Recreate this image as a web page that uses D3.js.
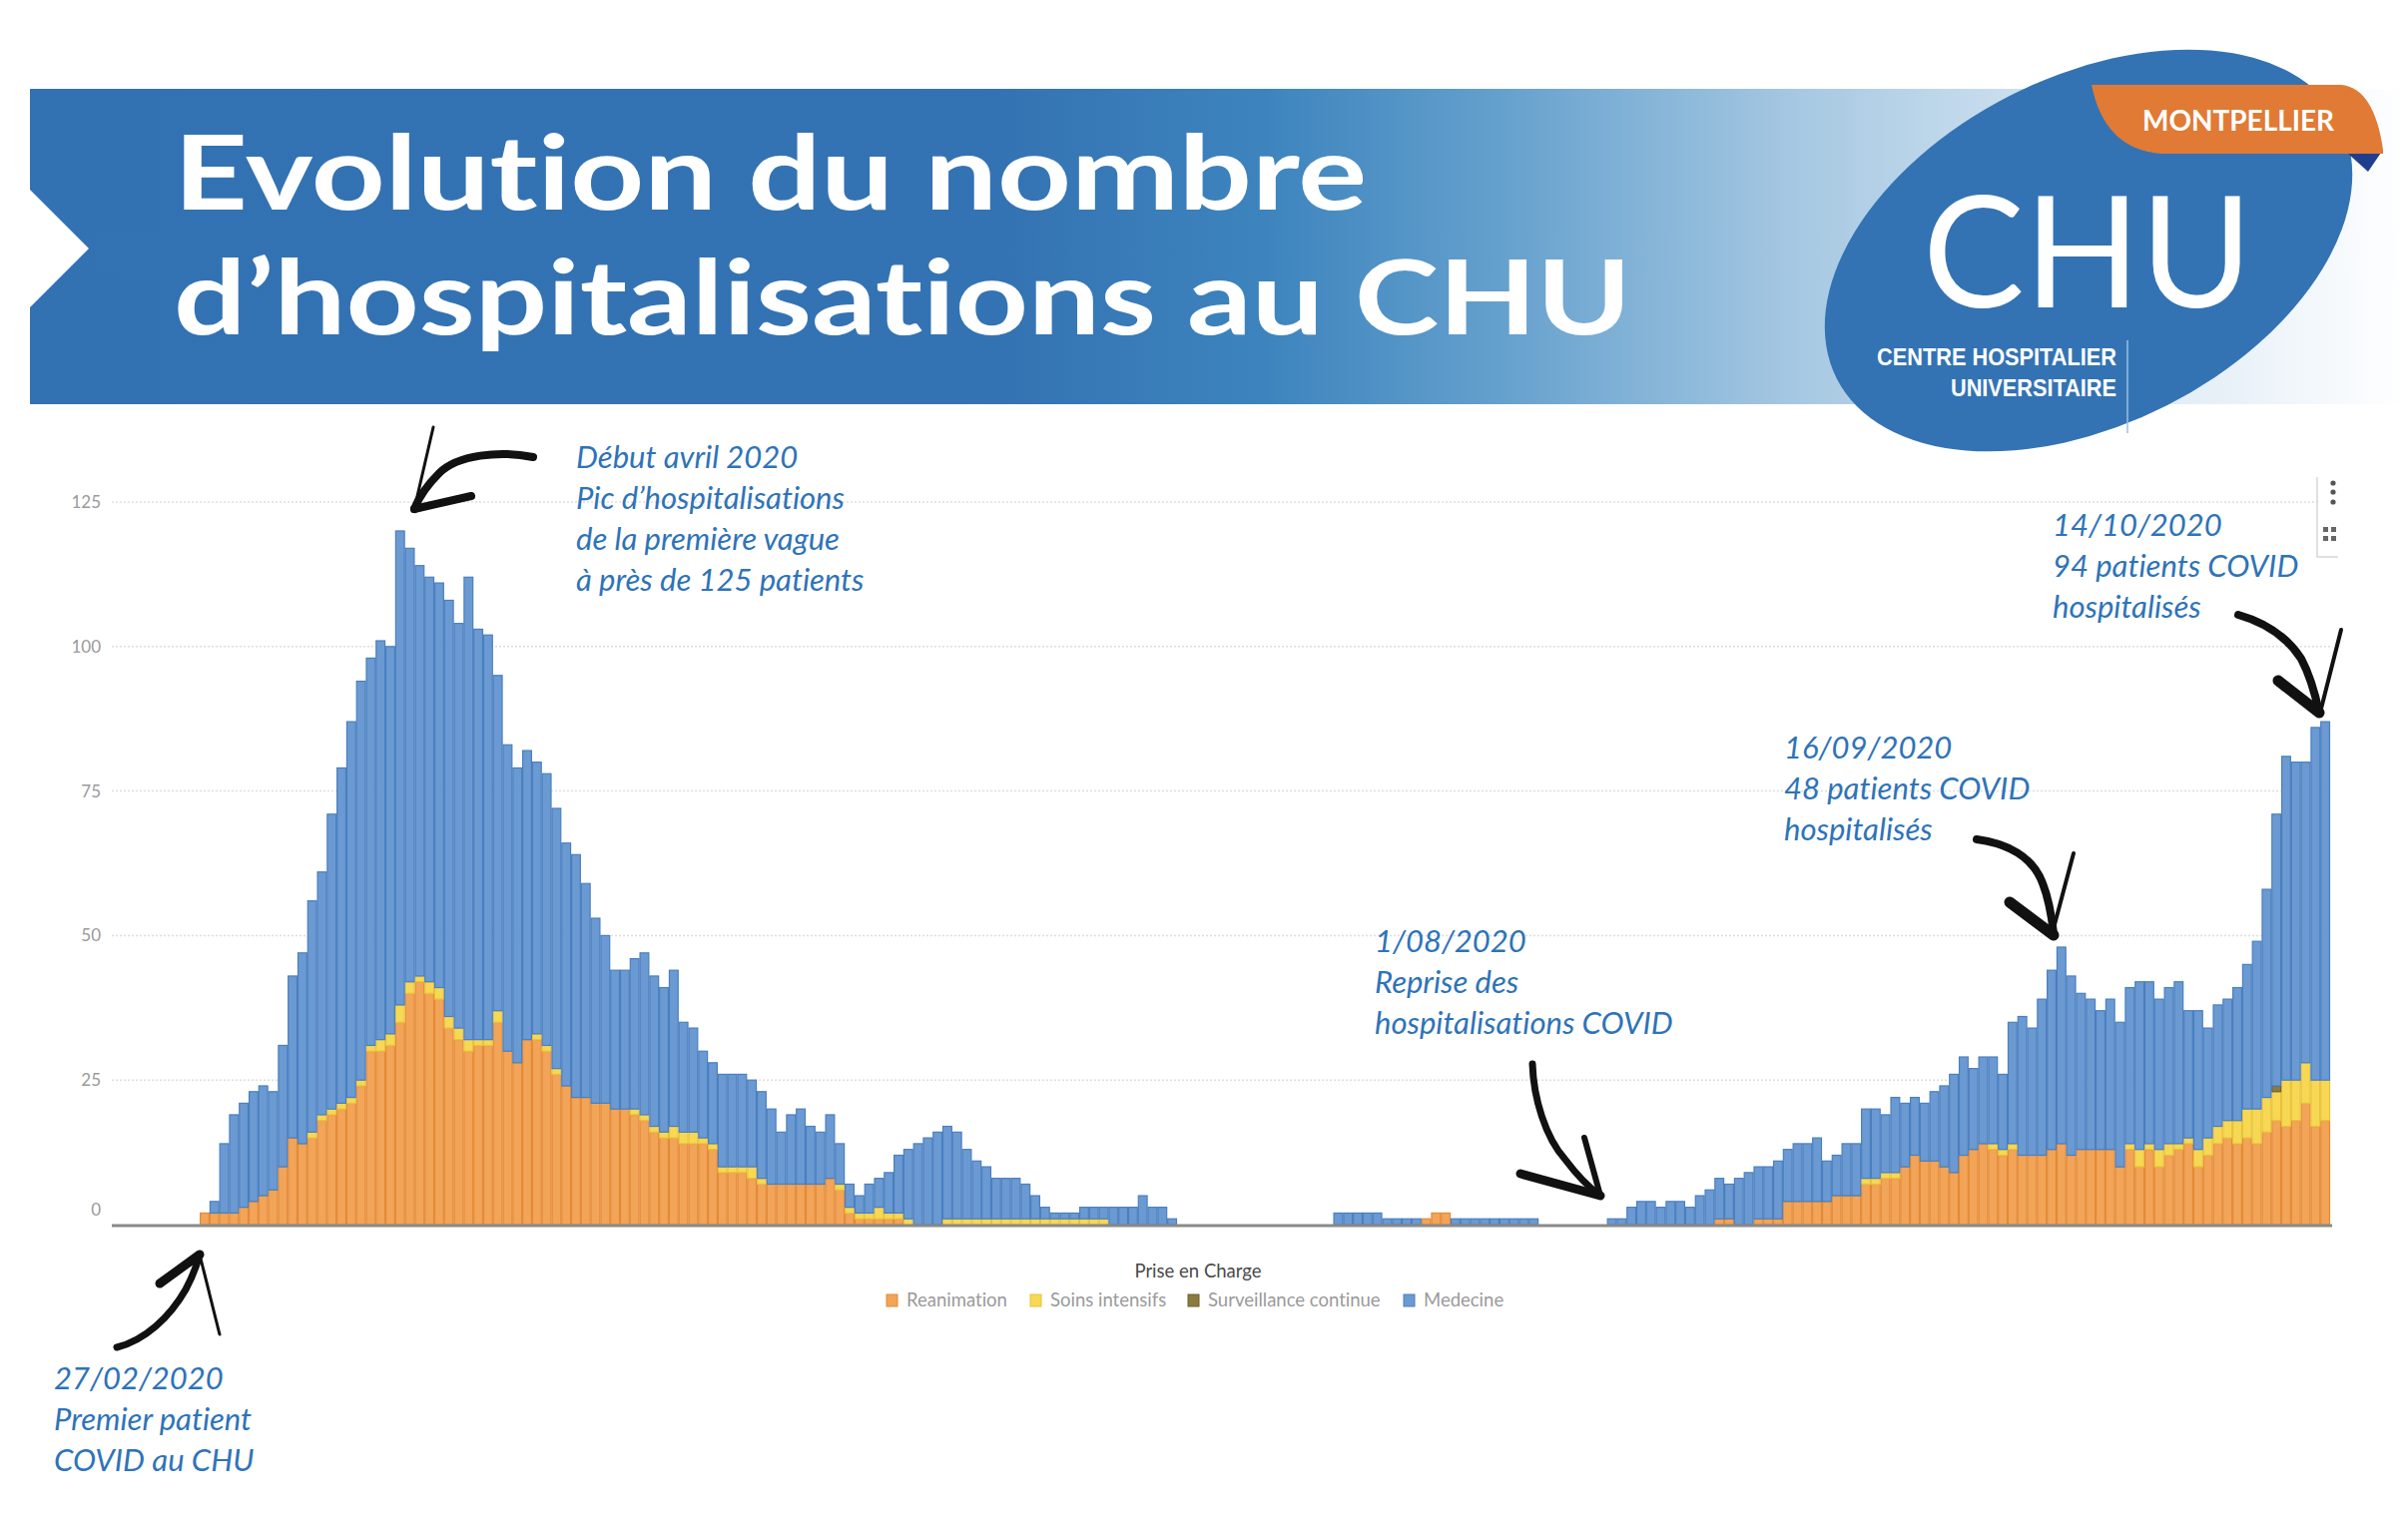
<!DOCTYPE html>
<html><head><meta charset="utf-8">
<script src="https://cdn.jsdelivr.net/npm/d3@7"></script>
<style>html,body{margin:0;padding:0;background:#fff;} svg{display:block;} text{font-variant-ligatures:none;font-feature-settings:"liga" 0,"clig" 0;}</style>
</head><body>
<svg id="c" width="2412" height="1532"></svg>
<script>
// ---------------- DATA ----------------
const yTicks = [0, 25, 50, 75, 100, 125];
const seriesKeys = ["reanimation", "soinsIntensifs", "surveillance", "medecine"];
const seriesLabels = ["Reanimation", "Soins intensifs", "Surveillance continue", "Medecine"];
const leadingEmptyDays = 9;

const reanimation = [2,2,2,2,3,4,5,6,10,15,
14,15,18,19,20,21,24,30,30,31,
35,40,42,40,39,34,32,30,31,31,
35,30,28,32,32,30,26,24,22,22,
21,21,20,20,19,18,16,15,15,14,
14,14,13,9,9,9,8,7,7,7,
7,7,7,7,8,6,2,1,1,1,
1,1,0,0,0,0,0,0,0,0,
0,0,0,0,0,0,0,0,0,0,
0,0,0,0,0,0,0,0,0,0,
0,0,0,0,0,0,0,0,0,0,
0,0,0,0,0,0,0,0,0,0,
0,0,0,0,0,1,2,2,0,0,
0,0,0,0,0,0,0,0,0,0,
0,0,0,0,0,0,0,0,0,0,
0,0,0,0,0,1,1,0,0,1,
1,1,4,4,4,4,4,5,5,5,
7,7,8,8,10,12,11,11,10,9,
12,13,14,13,12,13,12,12,12,13,
14,12,13,13,13,13,10,13,10,13,
10,12,13,14,10,12,14,15,14,15,
14,16,18,17,18,21,17,18];

const soinsIntensifs = [0,0,0,0,0,0,0,0,0,0,
0,1,1,1,1,1,1,1,2,2,
3,2,1,2,2,2,2,2,1,1,
2,0,0,0,1,1,1,0,0,0,
0,0,0,0,1,1,1,1,2,2,
2,1,1,1,1,1,2,1,0,0,
0,0,0,0,0,1,1,1,1,2,
1,1,1,0,0,0,1,1,1,1,
1,1,1,1,1,1,1,1,1,1,
1,1,1,0,0,0,0,0,0,0,
0,0,0,0,0,0,0,0,0,0,
0,0,0,0,0,0,0,0,0,0,
0,0,0,0,0,0,0,0,0,0,
0,0,0,0,0,0,0,0,0,0,
0,0,0,0,0,0,0,0,0,0,
0,0,0,0,0,0,0,0,0,0,
0,0,0,0,0,0,0,0,0,0,
1,1,1,1,0,0,0,0,0,0,
0,0,0,1,1,1,0,0,0,0,
0,0,0,0,0,0,0,1,3,1,
3,2,1,1,3,3,3,3,4,5,
6,6,5,8,7,7,8,7];

const surveillance = [0,0,0,0,0,0,0,0,0,0,
0,0,0,0,0,0,0,0,0,0,
0,0,0,0,0,0,0,0,0,0,
0,0,0,0,0,0,0,0,0,0,
0,0,0,0,0,0,0,0,0,0,
0,0,0,0,0,0,0,0,0,0,
0,0,0,0,0,0,0,0,0,0,
0,0,0,0,0,0,0,0,0,0,
0,0,0,0,0,0,0,0,0,0,
0,0,0,0,0,0,0,0,0,0,
0,0,0,0,0,0,0,0,0,0,
0,0,0,0,0,0,0,0,0,0,
0,0,0,0,0,0,0,0,0,0,
0,0,0,0,0,0,0,0,0,0,
0,0,0,0,0,0,0,0,0,0,
0,0,0,0,0,0,0,0,0,0,
0,0,0,0,0,0,0,0,0,0,
0,0,0,0,0,0,0,0,0,0,
0,0,0,0,0,0,0,0,0,0,
0,0,0,0,0,0,0,0,0,0,
0,0,0,0,0,0,0,0,0,0,
0,0,1,0,0,0,0,0];

const medecine = [0,2,12,17,18,19,19,17,21,28,
33,40,42,51,58,65,69,67,69,67,
82,75,71,70,70,72,70,80,71,70,
58,53,51,50,47,47,45,42,42,37,
32,29,24,24,26,28,26,25,27,19,
18,15,14,16,16,16,15,15,13,9,
12,13,10,9,11,7,4,3,5,5,
7,10,12,14,15,16,16,15,12,10,
9,7,7,7,6,4,2,1,1,1,
2,2,2,3,3,3,5,3,3,1,
0,0,0,0,0,0,0,0,0,0,
0,0,0,0,0,0,2,2,2,2,
2,1,1,1,1,0,0,0,1,1,
1,1,1,1,1,1,1,0,0,0,
0,0,0,0,1,1,3,4,4,3,
4,4,3,5,6,7,6,8,9,9,
9,10,9,10,10,11,7,7,9,9,
12,12,10,13,11,10,10,12,14,17,
17,14,15,15,13,21,24,22,27,31,
34,31,27,26,24,26,25,27,29,28,
26,27,28,22,24,19,21,21,23,25,
29,36,47,56,55,52,61,62];

const annotations = [
  {x: 577, y: 469, lines: ["Début avril 2020", "Pic d’hospitalisations", "de la première vague", "à près de 125 patients"]},
  {x: 2056, y: 537, lines: ["14/10/2020", "94 patients COVID", "hospitalisés"]},
  {x: 1787, y: 760, lines: ["16/09/2020", "48 patients COVID", "hospitalisés"]},
  {x: 1377, y: 954, lines: ["1/08/2020", "Reprise des", "hospitalisations COVID"]},
  {x: 54, y: 1392, lines: ["27/02/2020", "Premier patient", "COVID au CHU"]}
];

// ---------------- SETUP ----------------
const W = 2412, H = 1532;
const svg = d3.select("#c");
svg.append("rect").attr("width", W).attr("height", H).attr("fill", "#fff");
const defs = svg.append("defs");

// Banner
const grad = defs.append("linearGradient").attr("id", "bannerGrad")
  .attr("gradientUnits", "userSpaceOnUse").attr("x1", 30).attr("x2", 2412).attr("y1", 0).attr("y2", 0);
[[0, "#3372b2"], [0.41, "#3473b3"], [0.52, "#3d84be"], [0.617, "#64a0cd"], [0.743, "#a6c8e2"], [0.87, "#d8e7f3"], [1, "#ffffff"]]
  .forEach(([o, c]) => grad.append("stop").attr("offset", o).attr("stop-color", c));
svg.append("path").attr("d", "M30,89 L2412,89 L2412,405 L30,405 L30,308 L89,249 L30,190 Z").attr("fill", "url(#bannerGrad)");

const titleG = svg.append("g").attr("fill", "#fff").attr("font-family", "Lato, 'Open Sans', sans-serif")
  .attr("font-weight", 700).attr("font-size", 104);
titleG.append("text").attr("x", 174).attr("y", 210).attr("textLength", 1195).attr("lengthAdjust", "spacingAndGlyphs").text("Evolution du nombre");
titleG.append("text").attr("x", 174).attr("y", 335).attr("textLength", 1460).attr("lengthAdjust", "spacingAndGlyphs").text("d’hospitalisations au CHU");

// Logo
svg.append("ellipse").attr("cx", 2092).attr("cy", 251).attr("rx", 283).attr("ry", 174)
  .attr("transform", "rotate(-27 2092 251)").attr("fill", "#3373b3");
svg.append("path").attr("d", "M2387,150 L2352,154 L2372,172 Z").attr("fill", "#1f3f8e");
svg.append("path").attr("d", "M2095,85 L2345,85 Q2378,88 2387,150 L2387,154 L2165,154 Q2108,150 2095,85 Z").attr("fill", "#e07a35");
svg.append("text").attr("x", 2146).attr("y", 131).attr("textLength", 192).attr("lengthAdjust", "spacingAndGlyphs")
  .attr("fill", "#fff").attr("font-family", "Lato, sans-serif").attr("font-weight", 700).attr("font-size", 29).text("MONTPELLIER");
svg.append("text").attr("x", 1926).attr("y", 308).attr("textLength", 330).attr("lengthAdjust", "spacingAndGlyphs")
  .attr("fill", "#fff").attr("font-family", "Lato, sans-serif").attr("font-weight", 400).attr("font-size", 156).text("CHU");
const sub = svg.append("text").attr("fill", "#fff").attr("font-family", "'Liberation Sans', Arial, sans-serif").attr("font-weight", 700).attr("font-size", 23).attr("text-anchor", "end");
sub.append("tspan").attr("x", 2120).attr("y", 366).attr("textLength", 240).attr("lengthAdjust", "spacingAndGlyphs").text("CENTRE HOSPITALIER");
sub.append("tspan").attr("x", 2120).attr("y", 397).attr("textLength", 166).attr("lengthAdjust", "spacingAndGlyphs").text("UNIVERSITAIRE");
svg.append("line").attr("x1", 2131).attr("x2", 2131).attr("y1", 341).attr("y2", 434).attr("stroke", "#9dbfe0").attr("stroke-width", 1.5);

// ---------------- CHART ----------------
const days = d3.range(-leadingEmptyDays, medecine.length);
const rows = days.map(d => d < 0
  ? {day: d, reanimation: 0, soinsIntensifs: 0, surveillance: 0, medecine: 0}
  : {day: d, reanimation: reanimation[d], soinsIntensifs: soinsIntensifs[d], surveillance: surveillance[d], medecine: medecine[d]});

const x = d3.scaleBand().domain(days).range([112, 2334]).padding(0);
const y = d3.scaleLinear().domain([0, 125]).range([1227, 503]);

const fills = {reanimation: "#f2a458", soinsIntensifs: "#f7d855", surveillance: "#8c7b3e", medecine: "#6a9ad1"};
const strokes = {reanimation: "#e48a36", soinsIntensifs: "#e9c23a", surveillance: "#6f6030", medecine: "#4a7fc0"};

// gridlines
svg.append("g").selectAll("line").data(yTicks.filter(t => t > 0)).join("line")
  .attr("x1", 112).attr("x2", 2336).attr("y1", d => y(d)).attr("y2", d => y(d))
  .attr("stroke", "#dedede").attr("stroke-width", 1.5).attr("stroke-dasharray", "2,2");

// y axis labels via d3 axis
const yAxis = d3.axisLeft(y).tickValues(yTicks).tickSize(0).tickPadding(0);
const yg = svg.append("g").attr("transform", "translate(101,0)").call(yAxis);
yg.select(".domain").remove();
yg.selectAll("text").attr("font-family", "Lato, sans-serif").attr("font-size", 17).attr("fill", "#9a9a9a")
  .attr("dy", d => d === 0 ? "-0.55em" : "0.32em");

// stacked bars
const stacked = d3.stack().keys(seriesKeys)(rows);
const barG = svg.append("g");
stacked.forEach(layer => {
  const key = layer.key;
  barG.append("g").selectAll("rect").data(layer.filter(d => d[1] - d[0] > 0)).join("rect")
    .attr("x", d => x(d.data.day) + 0.5)
    .attr("width", x.bandwidth() - 1)
    .attr("y", d => y(d[1]))
    .attr("height", d => y(d[0]) - y(d[1]))
    .attr("fill", fills[key]).attr("stroke", strokes[key]).attr("stroke-width", 1.2);
});

// baseline
svg.append("line").attr("x1", 112).attr("x2", 2336).attr("y1", 1228).attr("y2", 1228).attr("stroke", "#8a8a8a").attr("stroke-width", 3);

// legend
svg.append("text").attr("x", 1200).attr("y", 1280).attr("text-anchor", "middle")
  .attr("font-family", "Lato, sans-serif").attr("font-size", 18.5).attr("fill", "#4a4a4a").text("Prise en Charge");
const legendPos = [888, 1032, 1190, 1406];
const lg = svg.append("g").selectAll("g").data(seriesKeys).join("g")
  .attr("transform", (d, i) => `translate(${legendPos[i]},1297)`);
lg.append("rect").attr("width", 11).attr("height", 12).attr("fill", d => fills[d]).attr("stroke", d => strokes[d]).attr("stroke-width", 1);
lg.append("text").attr("x", 20).attr("y", 12).attr("font-family", "Lato, sans-serif").attr("font-size", 18.5).attr("fill", "#9a9a9a")
  .text((d, i) => seriesLabels[i]);

// toolbar icons
svg.append("rect").attr("x", 2322).attr("y", 478).attr("width", 22).attr("height", 80).attr("fill", "#fff");
svg.append("path").attr("d", "M2321,478 L2321,558 L2342,558").attr("fill", "none").attr("stroke", "#d6d6d6").attr("stroke-width", 1.5);
[484, 493, 503].forEach(cy => svg.append("circle").attr("cx", 2337).attr("cy", cy).attr("r", 2.6).attr("fill", "#555"));
svg.append("g").attr("fill", "#666").selectAll("rect").data([[2327, 528], [2335, 528], [2327, 537], [2335, 537]]).join("rect")
  .attr("x", d => d[0]).attr("y", d => d[1]).attr("width", 5).attr("height", 5);

// annotations
const annG = svg.append("g").attr("font-family", "Lato, 'Open Sans', sans-serif").attr("font-style", "italic").attr("font-size", 31).attr("fill", "#2e73b8");
annotations.forEach(a => {
  a.lines.forEach((l, i) => annG.append("text").attr("x", a.x).attr("y", a.y + i * 41).text(l));
});

// arrows (brush strokes)
const arrows = [
  {d: "M534,458 C500,451 458,456 440,474 C428,486 420,497 415,510", w: 8},
  {d: "M434,428 L415,510", w: 3},
  {d: "M472,497 L415,510", w: 8},
  {d: "M117,1350 C145,1343 170,1320 186,1292 C193,1279 197,1268 200,1257", w: 7},
  {d: "M160,1286 L200,1257", w: 9},
  {d: "M200,1257 L220,1337", w: 3},
  {d: "M1535,1066 C1536,1100 1548,1140 1568,1162 C1580,1178 1592,1190 1603,1198", w: 7},
  {d: "M1523,1176 L1603,1198", w: 9},
  {d: "M1587,1140 L1603,1198", w: 6},
  {d: "M1980,841 C2010,845 2036,858 2046,885 C2052,900 2055,918 2057,935", w: 8},
  {d: "M2013,904 L2057,937", w: 11},
  {d: "M2077,855 L2057,930", w: 4},
  {d: "M2242,616 C2270,624 2292,640 2305,660 C2313,675 2319,695 2323,714", w: 8},
  {d: "M2282,682 L2323,714", w: 11},
  {d: "M2345,631 L2324,714", w: 4}
];
svg.append("g").selectAll("path").data(arrows).join("path")
  .attr("d", d => d.d).attr("fill", "none").attr("stroke", "#111").attr("stroke-width", d => d.w)
  .attr("stroke-linecap", "round").attr("stroke-linejoin", "round");
</script>
</body></html>
